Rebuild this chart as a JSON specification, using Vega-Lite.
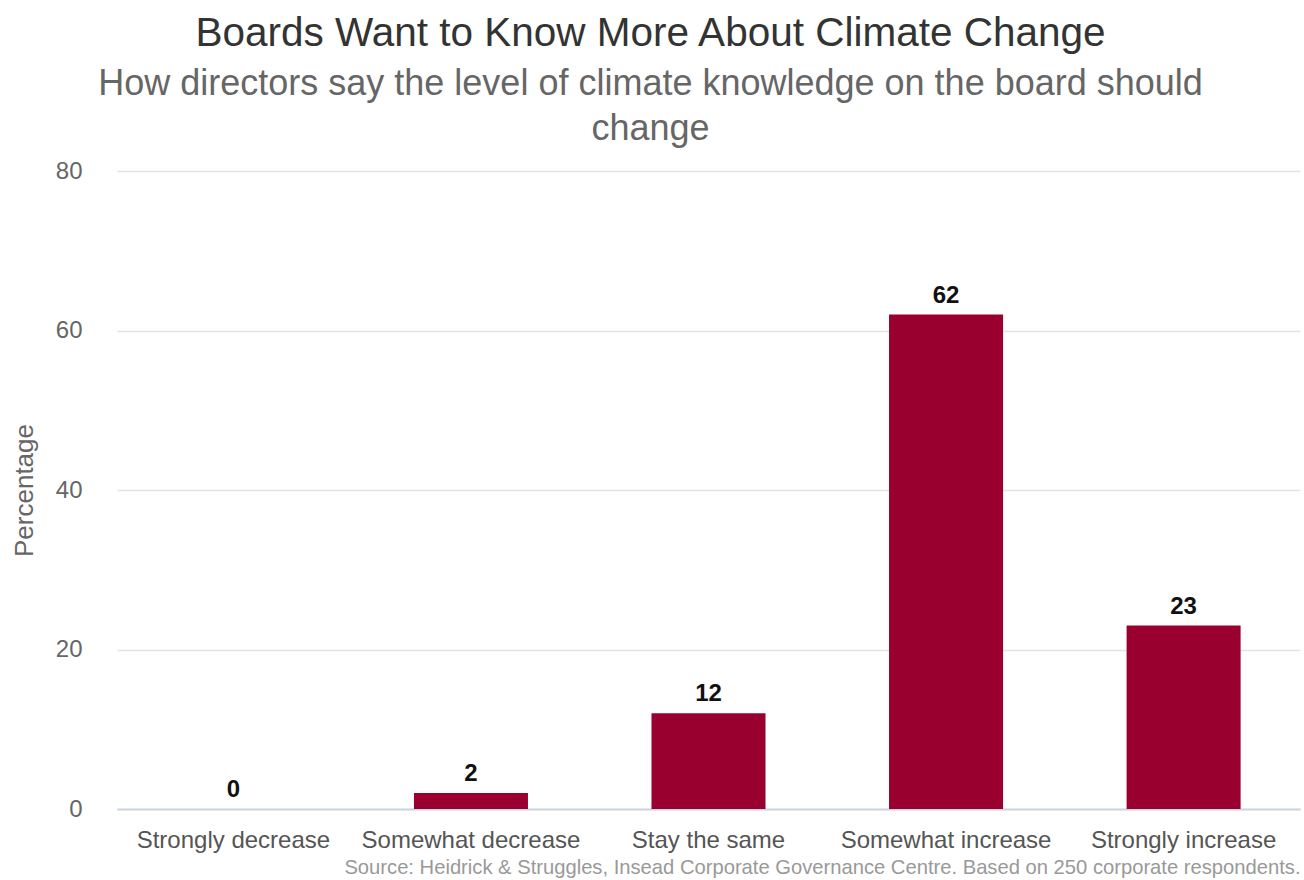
{
  "$schema": "https://vega.github.io/schema/vega-lite/v6.json",
  "width": 1183,
  "height": 638,
  "autosize": {"type": "none"},
  "padding": {"left": 117, "top": 171, "right": 4, "bottom": 71},
  "background": "white",
  "config": {
    "font": "Liberation Sans",
    "view": {"stroke": null}
  },
  "title": {
    "text": "Boards Want to Know More About Climate Change",
    "subtitle": ["How directors say the level of climate knowledge on the board should", "change"],
    "anchor": "middle",
    "dx": -58,
    "fontSize": 40.5,
    "fontWeight": "normal",
    "color": "#333333",
    "subtitleFontSize": 36,
    "subtitleColor": "#666666",
    "subtitleLineHeight": 45,
    "subtitlePadding": 13,
    "offset": 12
  },
  "data": {
    "values": [
      {"response": "Strongly decrease", "pct": 0},
      {"response": "Somewhat decrease", "pct": 2},
      {"response": "Stay the same", "pct": 12},
      {"response": "Somewhat increase", "pct": 62},
      {"response": "Strongly increase", "pct": 23}
    ]
  },
  "encoding": {
    "x": {
      "field": "response",
      "type": "nominal",
      "sort": null,
      "scale": {"paddingInner": 0.52, "paddingOuter": 0.25},
      "axis": {
        "title": "Source: Heidrick & Struggles, Insead Corporate Governance Centre. Based on 250 corporate respondents.",
        "titleAnchor": "end",
        "titleFontSize": 20.2,
        "titleFontWeight": "normal",
        "titleColor": "#999999",
        "titlePadding": 5,
        "labelAngle": 0,
        "labelFontSize": 24,
        "labelLimit": 0,
        "labelColor": "#555555",
        "labelPadding": 19,
        "ticks": false,
        "tickSize": 0,
        "domain": true,
        "domainColor": "#ccd3e3",
        "domainWidth": 2,
        "grid": false
      }
    },
    "y": {
      "field": "pct",
      "type": "quantitative",
      "scale": {"domain": [0, 80], "nice": false},
      "axis": {
        "title": "Percentage",
        "titleFontSize": 26,
        "titleFontWeight": "normal",
        "titleColor": "#666666",
        "titlePadding": 18,
        "values": [0, 20, 40, 60, 80],
        "labelFontSize": 24,
        "labelColor": "#666666",
        "labelPadding": 35,
        "ticks": false,
        "tickSize": 0,
        "domain": false,
        "grid": true,
        "gridColor": "#e3e3e3",
        "gridWidth": 1.5
      }
    }
  },
  "layer": [
    {"mark": {"type": "bar", "color": "#990030"}},
    {
      "mark": {"type": "text", "baseline": "bottom", "dy": -7, "fontSize": 24, "fontWeight": "bold", "color": "#111111"},
      "encoding": {"text": {"field": "pct", "type": "quantitative"}}
    }
  ]
}
